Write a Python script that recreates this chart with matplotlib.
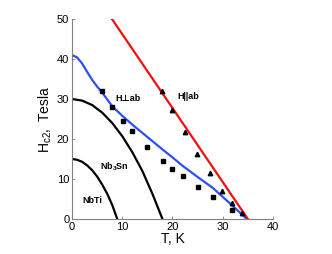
import numpy as np
import matplotlib.pyplot as plt
plt.rcParams["font.family"] = ["Liberation Sans", "DejaVu Sans"]
plt.rcParams["mathtext.default"] = "regular"

# H perpendicular ab: fit curve and data
perp_T = [0, 1, 2, 3, 4, 5, 6, 8, 10, 12, 15, 18, 20, 22, 25, 28, 31, 34.8]
perp_H = [41.0, 40.4, 38.9, 36.8, 34.8, 33.1, 31.6, 28.2, 25.8, 23.6, 20.5, 17.4, 15.4, 13.3, 10.5, 7.8, 4.4, 0]
perp_pts_T = [6.0, 8.0, 10.1, 12.0, 14.9, 18.1, 20.0, 22.0, 25.0, 28.0, 31.8]
perp_pts_H = [32.1, 28.1, 24.6, 22.1, 18.1, 14.5, 12.5, 10.8, 8.0, 5.5, 2.3]

# H parallel ab: fit line and data
par_T = [7.96, 35]
par_H = [50, 0]
par_pts_T = [18.0, 20.0, 22.4, 24.9, 27.4, 29.9, 31.8, 33.9]
par_pts_H = [32.1, 27.3, 21.8, 16.2, 11.4, 6.9, 4.1, 1.5]

# conventional superconductors
nb3sn_T = [0, 2, 4, 6, 8, 10, 12, 14, 16, 18]
nb3sn_H = [30, 29.6, 28.5, 26.6, 24.0, 20.7, 16.7, 12.0, 6.3, 0]
nbti_T = [0, 1, 2, 3, 4, 5, 6, 7, 8, 9]
nbti_H = [15, 14.8, 14.3, 13.4, 12.2, 10.6, 8.6, 6.3, 3.5, 0]

fig = plt.figure(figsize=(3.32, 2.54), dpi=100)
ax = fig.add_axes([0.217, 0.138, 0.605, 0.787])

ax.plot(nbti_T, nbti_H, color='k', lw=1.6)
ax.plot(nb3sn_T, nb3sn_H, color='k', lw=1.6)
ax.plot(perp_T, perp_H, color='#2f4ff0', lw=1.6)
ax.plot(par_T, par_H, color='#f01010', lw=1.6)
ax.plot(perp_pts_T, perp_pts_H, 's', color='k', ms=2.8, zorder=5)
ax.plot(par_pts_T, par_pts_H, '^', color='k', ms=3.2, zorder=5)

ax.text(11.2, 30.2, 'H\u22a5ab', fontsize=6.5, fontweight='bold', ha='center', va='center')
ax.text(23.1, 30.6, 'H||ab', fontsize=6.5, fontweight='bold', ha='center', va='center')
ax.text(8.4, 13, 'Nb$_3$Sn', fontsize=6.5, fontweight='bold', ha='center', va='center')
ax.text(4.0, 4.5, 'NbTi', fontsize=6.5, fontweight='bold', ha='center', va='center')

ax.set_xlim(0, 40)
ax.set_ylim(0, 50)
ax.set_xticks([0, 10, 20, 30, 40])
ax.set_yticks([0, 10, 20, 30, 40, 50])
ax.tick_params(direction='in', length=2.5, width=0.6, labelsize=8, color='#808080', pad=2)
for s in ['top', 'right']:
    ax.spines[s].set_visible(False)
for s in ['left', 'bottom']:
    ax.spines[s].set_color('#808080')
    ax.spines[s].set_linewidth(0.8)

ax.set_xlabel('T, K', fontsize=10, labelpad=0)
ax.set_ylabel('H$_{c2},$ Tesla', fontsize=10, labelpad=2)

fig.savefig('out.png', dpi=100)
